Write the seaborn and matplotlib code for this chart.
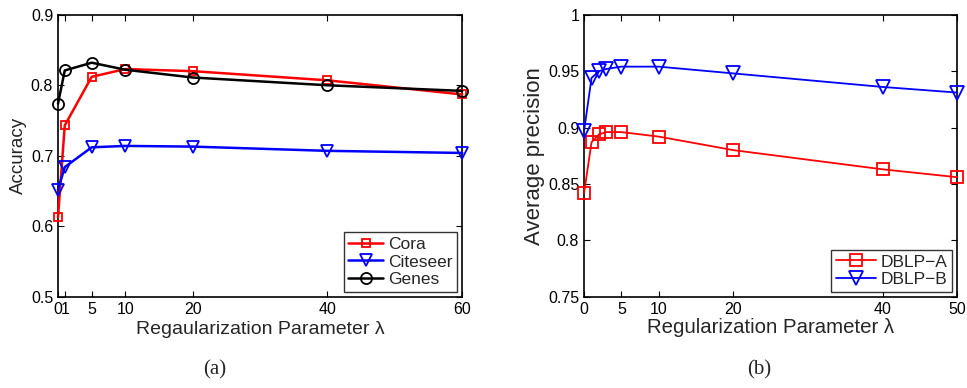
"""Accuracy / average precision vs regularization parameter, two panels."""

import matplotlib
matplotlib.use("Agg")
import matplotlib.pyplot as plt
import pandas as pd
import seaborn as sns

# panel (a)
lam_a = [0, 1, 5, 10, 20, 40, 60]
cora = [0.613, 0.743, 0.812, 0.823, 0.820, 0.807, 0.787]
citeseer = [0.652, 0.684, 0.712, 0.714, 0.713, 0.707, 0.704]
genes = [0.774, 0.821, 0.832, 0.822, 0.811, 0.800, 0.792]
xticks_a = [0, 1, 5, 10, 20, 40, 60]
yticks_a = [0.5, 0.6, 0.7, 0.8, 0.9]

# panel (b)
lam_b = [0, 1, 2, 3, 5, 10, 20, 40, 50]
dblp_a = [0.842, 0.887, 0.894, 0.896, 0.896, 0.892, 0.880, 0.863, 0.856]
dblp_b = [0.897, 0.944, 0.950, 0.952, 0.954, 0.954, 0.948, 0.936, 0.931]
xticks_b = [0, 5, 10, 20, 40, 50]
yticks_b = [0.75, 0.8, 0.85, 0.9, 0.95, 1.0]
ytick_labels_b = ["0.75", "0.8", "0.85", "0.9", "0.95", "1"]

sns.set_style("white")
plt.rcParams["font.family"] = ["Liberation Sans", "DejaVu Sans"]


def draw_series(ax, x, y, label, color, marker, ms, lw):
    df = pd.DataFrame({"x": x, "y": y})
    sns.lineplot(
        data=df, x="x", y="y", ax=ax, color=color, label=label,
        marker=marker, markersize=ms, markerfacecolor="none",
        markeredgecolor=color, markeredgewidth=1.3, linewidth=lw,
        clip_on=False, zorder=3,
    )


def style_axes(ax):
    for spine in ax.spines.values():
        spine.set_visible(True)
        spine.set_color("black")
        spine.set_linewidth(1.2)
    ax.tick_params(direction="in", length=4, width=0.8, labelsize=11.5,
                   top=True, right=True, bottom=True, left=True, colors="black")


def style_legend(leg):
    leg.get_frame().set_edgecolor("black")
    leg.get_frame().set_linewidth(1.0)


fig = plt.figure(figsize=(9.67, 3.88), dpi=100)
ax1 = fig.add_axes([0.060, 0.235, 0.418, 0.727])
ax2 = fig.add_axes([0.604, 0.235, 0.386, 0.727])

# (a)
draw_series(ax1, lam_a, cora, "Cora", "#ff0000", "s", 6, 1.8)
draw_series(ax1, lam_a, citeseer, "Citeseer", "#0000ff", "v", 8, 1.8)
draw_series(ax1, lam_a, genes, "Genes", "black", "o", 8, 1.8)
ax1.set_xlim(0, 60)
ax1.set_ylim(0.5, 0.9)
ax1.set_xticks(xticks_a)
ax1.set_xticklabels([str(t) for t in xticks_a])
ax1.set_yticks(yticks_a)
ax1.set_yticklabels([f"{t:.1f}" for t in yticks_a])
ax1.set_xlabel("Regaularization Parameter λ", fontsize=14, labelpad=3)
ax1.set_ylabel("Accuracy", fontsize=13.5, labelpad=3)
style_axes(ax1)
leg1 = ax1.legend(loc="lower right", fontsize=12.5, frameon=True, fancybox=False,
                  handlelength=2.0, borderpad=0.25, labelspacing=0.15,
                  handletextpad=0.3, borderaxespad=0.3)
style_legend(leg1)
fig.text(0.222, 0.035, "(a)", ha="center", fontsize=15, family=["Liberation Serif"])

# (b)
draw_series(ax2, lam_b, dblp_a, "DBLP−A", "#ff0000", "s", 9, 1.3)
draw_series(ax2, lam_b, dblp_b, "DBLP−B", "#0000ff", "v", 10, 1.3)
ax2.set_xlim(0, 50)
ax2.set_ylim(0.75, 1.0)
ax2.set_xticks(xticks_b)
ax2.set_xticklabels([str(t) for t in xticks_b])
ax2.set_yticks(yticks_b)
ax2.set_yticklabels(ytick_labels_b)
ax2.set_xlabel("Regularization Parameter λ", fontsize=14.7, labelpad=1)
ax2.set_ylabel("Average precision", fontsize=16, labelpad=2)
style_axes(ax2)
leg2 = ax2.legend(loc="lower right", fontsize=12.5, frameon=True, fancybox=False,
                  handlelength=2.3, borderpad=0.25, labelspacing=0.15,
                  handletextpad=0.3, borderaxespad=0.3)
style_legend(leg2)
fig.text(0.785, 0.035, "(b)", ha="center", fontsize=15, family=["Liberation Serif"])

fig.savefig("out.png", dpi=100)
